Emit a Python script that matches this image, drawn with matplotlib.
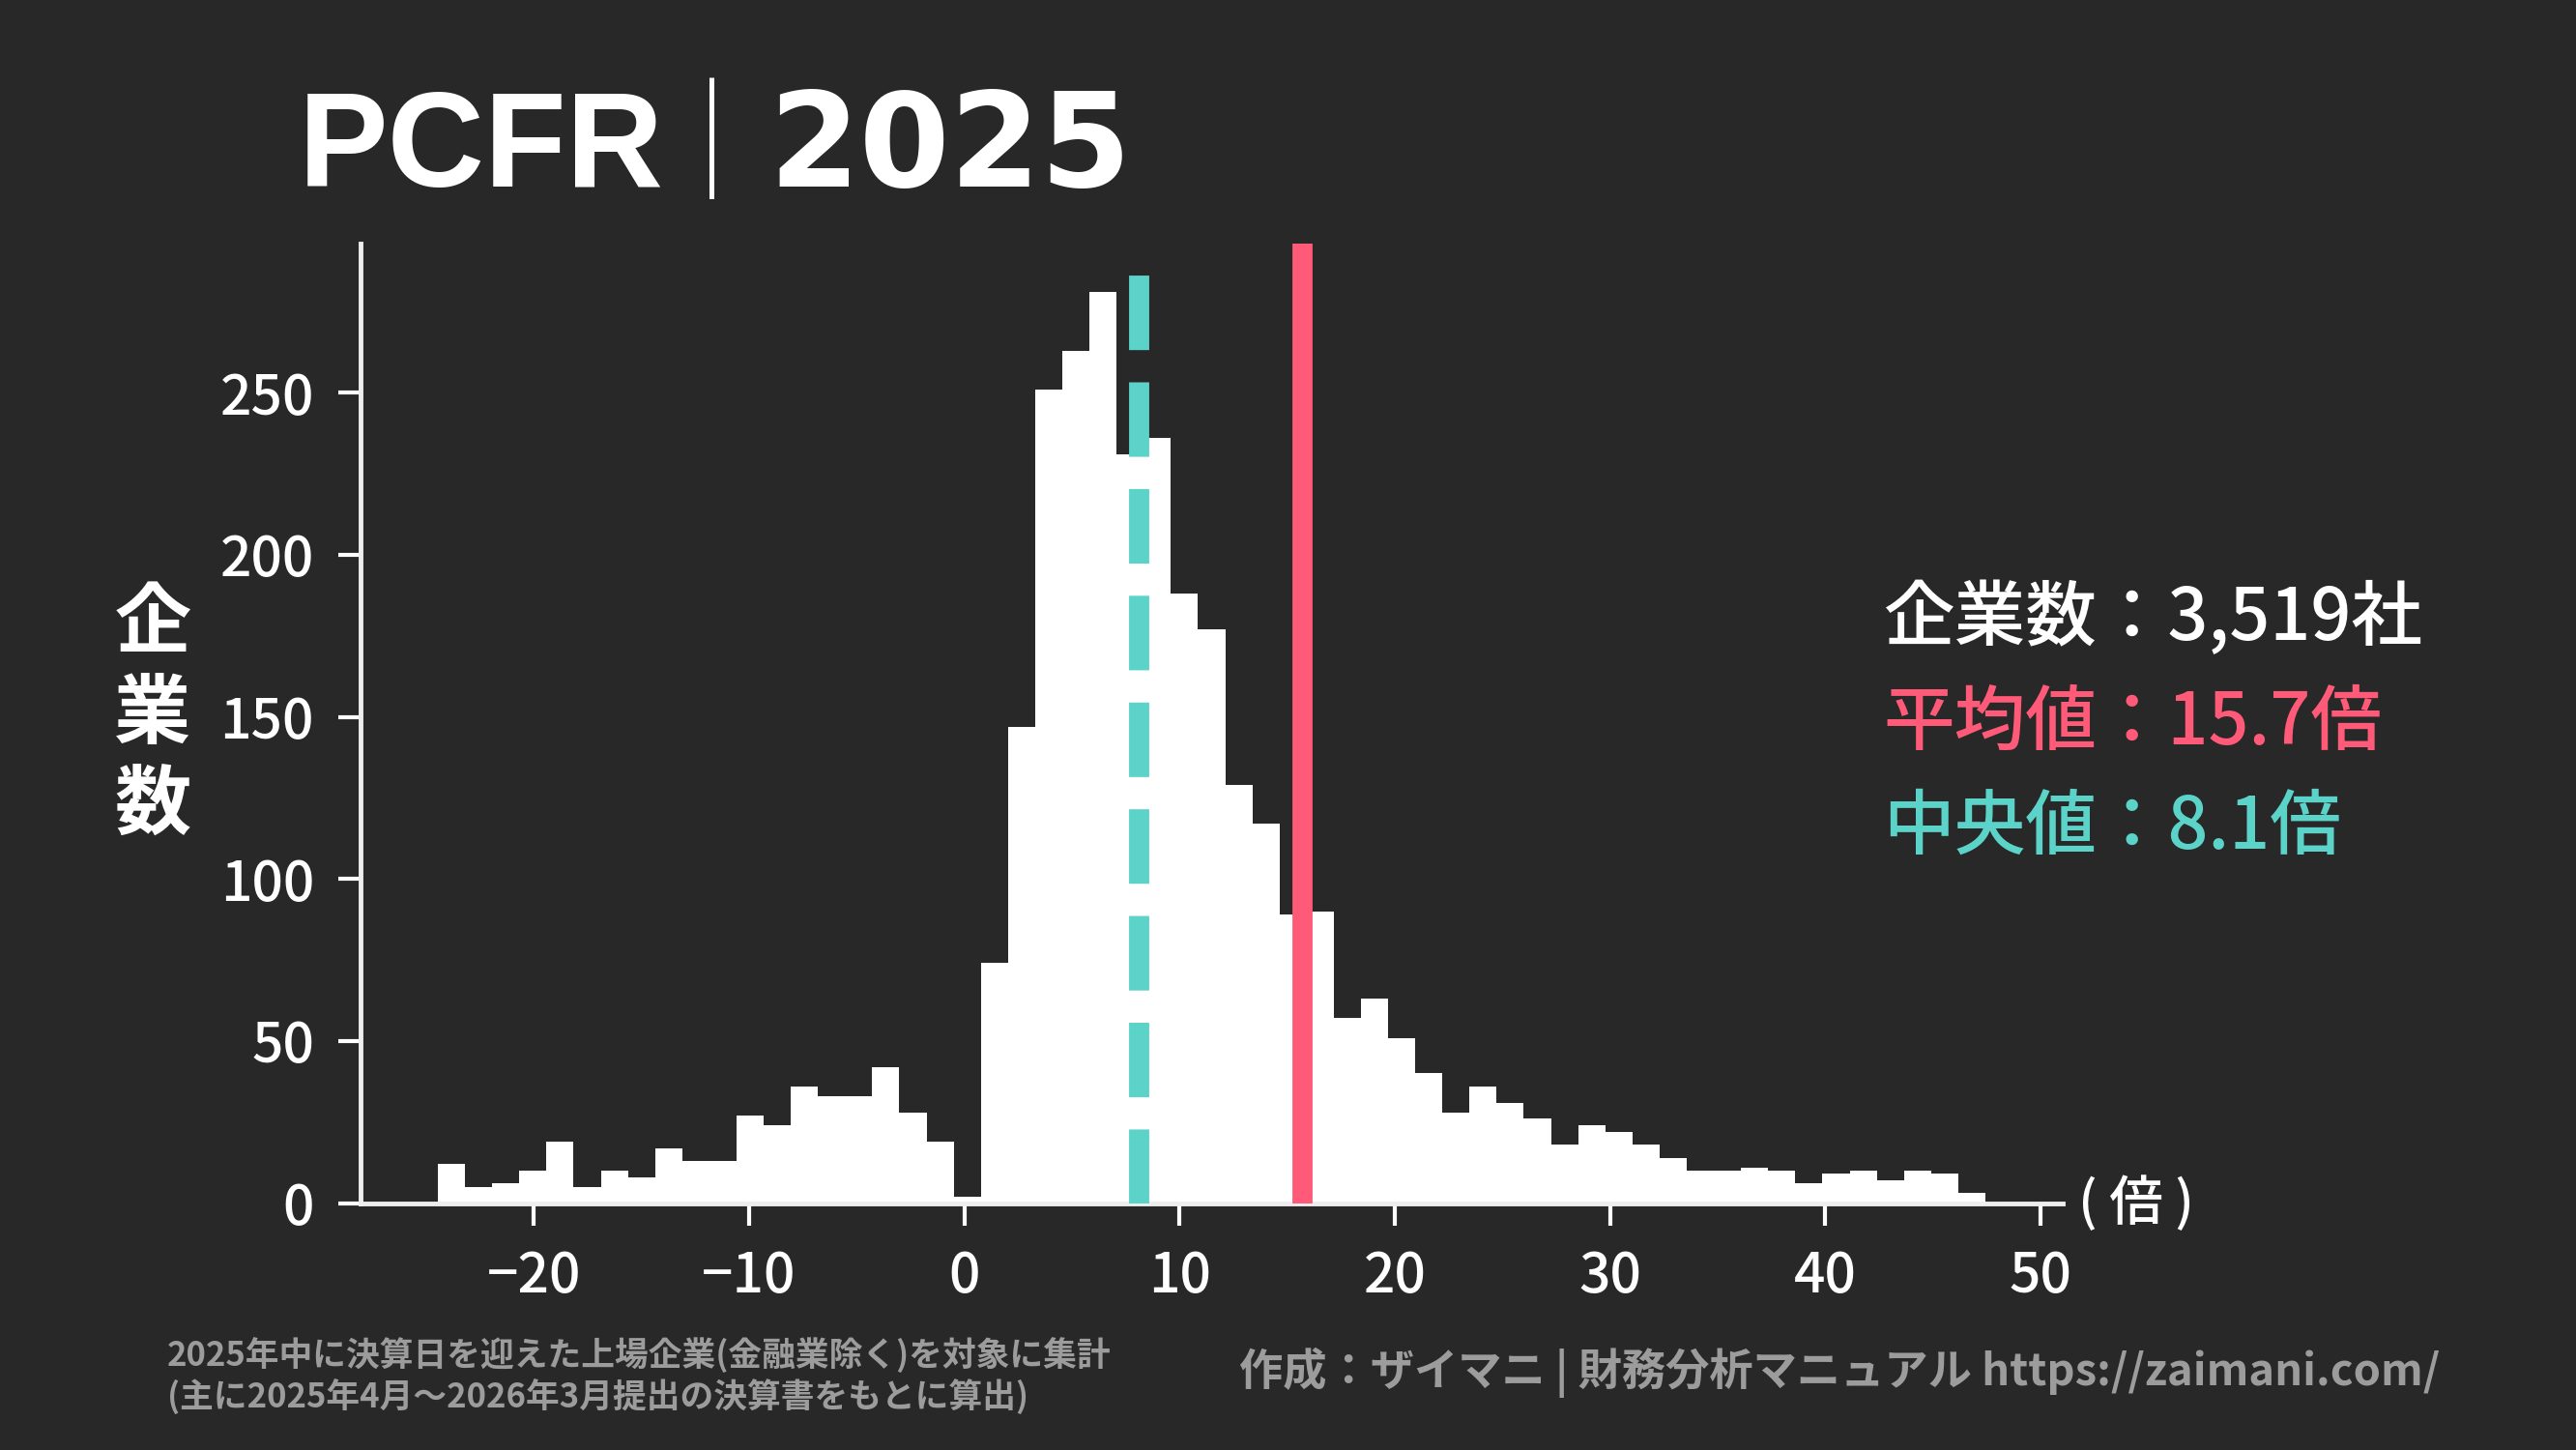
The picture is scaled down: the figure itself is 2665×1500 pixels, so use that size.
import numpy as np
import matplotlib
matplotlib.use("Agg")
import matplotlib.pyplot as plt

# ---------------- data ----------------
counts = [12, 5, 6, 10, 19, 5, 10, 8, 17, 13, 13, 27, 24, 36, 33, 33, 42, 28, 19, 2,
          74, 147, 251, 263, 281, 231, 236, 188, 177, 129, 117, 89, 90,
          57, 63, 51, 40, 28, 36, 31, 26, 18, 24, 22, 18, 14, 10, 10, 11, 10, 6, 9, 10, 7, 10, 9, 3]
bin_range = (-24.45, 47.43)
mean_value = 15.7
median_value = 8.1
n_companies = "3,519"
x_ticks = [-20, -10, 0, 10, 20, 30, 40, 50]
y_ticks = [0, 50, 100, 150, 200, 250]

title_metric = "PCFR"
title_sep = "|"
title_year = "2025"
ylabel = "企\n業\n数"
xunit = "( 倍 )"
stat_lines = [f"企業数：{n_companies}社", f"平均値：{mean_value}倍", f"中央値：{median_value}倍"]
footer_left = "2025年中に決算日を迎えた上場企業(金融業除く)を対象に集計\n(主に2025年4月～2026年3月提出の決算書をもとに算出)"
footer_right = "作成：ザイマニ | 財務分析マニュアル https://zaimani.com/"

# ---------------- style ----------------
BG = "#282828"
RED = "#FF5A78"
TEAL = "#5CD3C9"
GRAY = "#9C9C9C"
JP = ["Noto Sans CJK JP", "DejaVu Sans"]
plt.rcParams["font.family"] = JP
plt.rcParams["axes.unicode_minus"] = True

W, H = 2665, 1500
fig = plt.figure(figsize=(W / 100, H / 100), dpi=100, facecolor=BG)
ax = fig.add_axes([0.1399, 0.1703, 0.8008 - 0.1399, 0.832 - 0.1703], facecolor=BG)

edges = np.linspace(bin_range[0], bin_range[1], len(counts) + 1)
ax.bar(edges[:-1], counts, width=np.diff(edges), align="edge",
       color="white", linewidth=0, zorder=2)

ax.axvline(median_value, color=TEAL, lw=15, ls="--", zorder=3)
ax.axvline(mean_value, color=RED, lw=15, zorder=3)

ax.set_xlim(-28.05, 51.03)
ax.set_ylim(0, 296)
ax.set_xticks(x_ticks)
ax.set_yticks(y_ticks)

for s in ["top", "right"]:
    ax.spines[s].set_visible(False)
for s in ["left", "bottom"]:
    ax.spines[s].set_color("#eeeeee")
    ax.spines[s].set_linewidth(3.5)

ax.tick_params(colors="white", length=16.5, width=3, pad=18, labelsize=41)
for lab in ax.get_xticklabels() + ax.get_yticklabels():
    lab.set_fontweight("medium")
    lab.set_color("white")

# y label (stacked vertical)
fig.text(0.0593, 0.507, ylabel, fontsize=57, fontweight="bold", color="white",
         ha="center", va="center", linespacing=1.2)

# x unit
fig.text(2150 / W, 1 - 1245 / H, xunit, fontsize=40, fontweight="medium",
         color="white", ha="left", va="center")

# title (three parts)
fig.text(0.116, 1 - 193 / H, title_metric, fontsize=100, fontweight="bold",
         color="white", ha="left", va="baseline", family=["Liberation Sans"])
fig.text(736 / W, 1 - 143.5 / H, title_sep, fontsize=82, fontweight="light",
         color="white", ha="center", va="center", family=["Noto Sans CJK JP"])
fig.text(795 / W, 1 - 193 / H, title_year, fontsize=97, fontweight="bold",
         color="white", ha="left", va="baseline", family=["DejaVu Sans"])

# stats block
for txt, col, yc in zip(stat_lines, ["white", RED, TEAL], [640, 749, 857]):
    fig.text(0.731, 1 - yc / H, txt, fontsize=53, fontweight="medium",
             color=col, ha="left", va="center")

# footers
fig.text(0.065, 1 - 1424 / H, footer_left, fontsize=25, fontweight="bold",
         color=GRAY, ha="left", va="center", linespacing=1.2)
fig.text(0.947, 1 - 1420 / H, footer_right, fontsize=32.6, fontweight="bold",
         color=GRAY, ha="right", va="center")

fig.savefig("out.png", dpi=100, facecolor=BG)
